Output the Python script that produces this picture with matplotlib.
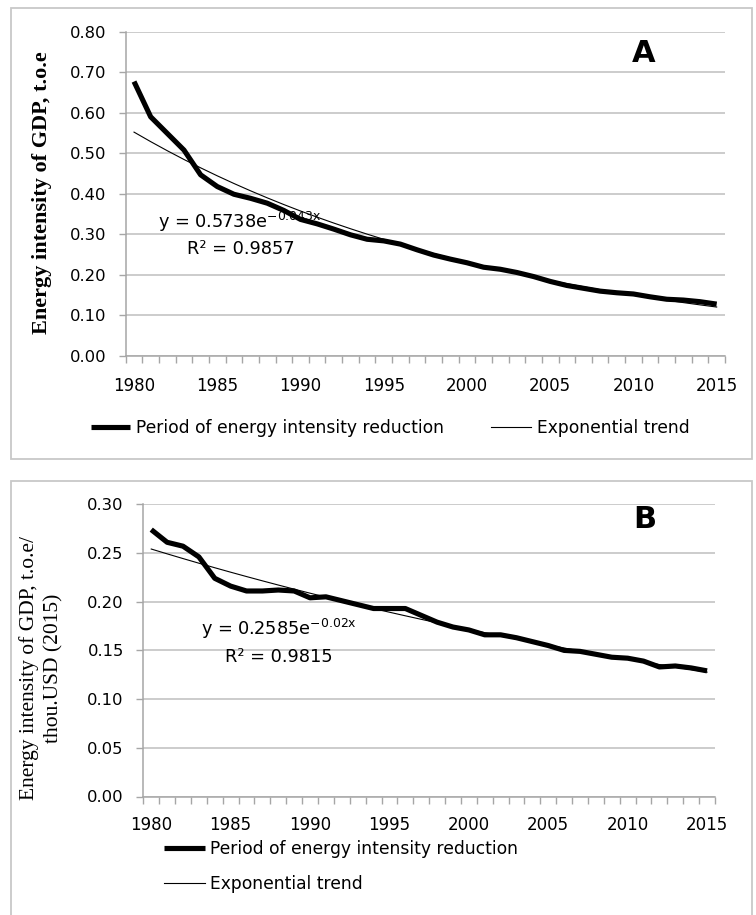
import numpy as np
import matplotlib
matplotlib.use("Agg")
import matplotlib.pyplot as plt
from matplotlib.patches import Rectangle

# data
years = list(range(1980, 2016))
intensity_a = [0.677, 0.590, 0.549, 0.508, 0.447, 0.418, 0.399, 0.389, 0.377, 0.359,
               0.337, 0.326, 0.313, 0.299, 0.288, 0.284, 0.276, 0.262, 0.249, 0.239,
               0.230, 0.219, 0.214, 0.206, 0.196, 0.184, 0.174, 0.167, 0.160, 0.156,
               0.153, 0.146, 0.140, 0.138, 0.134, 0.128]
intensity_b = [0.274, 0.261, 0.257, 0.246, 0.224, 0.216, 0.211, 0.211, 0.212, 0.211,
               0.204, 0.205, 0.201, 0.197, 0.193, 0.193, 0.193, 0.186, 0.179, 0.174,
               0.171, 0.166, 0.166, 0.163, 0.159, 0.155, 0.150, 0.149, 0.146, 0.143,
               0.142, 0.139, 0.133, 0.134, 0.132, 0.129]
yticks_a = [0.0, 0.1, 0.2, 0.3, 0.4, 0.5, 0.6, 0.7, 0.8]
yticks_b = [0.0, 0.05, 0.10, 0.15, 0.20, 0.25, 0.30]
label_years = [1980, 1985, 1990, 1995, 2000, 2005, 2010, 2015]
eq_a = ("y = 0.5738e$^{\\mathregular{-0.043x}}$", "R² = 0.9857")
eq_b = ("y = 0.2585e$^{\\mathregular{-0.02x}}$", "R² = 0.9815")
series_name = "Period of energy intensity reduction"
trend_name = "Exponential trend"

W, H = 756, 915
fig = plt.figure(figsize=(W / 100, H / 100), dpi=100)


def fx(x):
    return x / W


def fy(y):
    return 1 - y / H


def axes_px(left, top, right, bottom):
    return fig.add_axes([fx(left), fy(bottom), (right - left) / W, (bottom - top) / H])


def style(ax, values, yticks, ymax, pad_x):
    n = len(values)
    idx = np.arange(n)
    line, = ax.plot(idx, values, color="black", lw=3.7, solid_capstyle="butt",
                    solid_joinstyle="round", zorder=3)
    # exponential trend, fitted like Excel on x = 1..n
    xs = idx + 1
    b, ln_a = np.polyfit(xs, np.log(values), 1)
    trend, = ax.plot(idx, np.exp(ln_a) * np.exp(b * xs), color="black", lw=0.8, zorder=4)

    ax.set_xlim(-0.5, n - 0.5)
    ax.set_ylim(0, ymax)
    ax.set_yticks(yticks)
    ax.set_yticklabels(["%.2f" % v for v in yticks])
    pos = [years.index(y) for y in label_years]
    ax.set_xticks(pos)
    ax.set_xticklabels([str(y) for y in label_years])
    ax.set_xticks(np.arange(-0.5, n, 1.0), minor=True)
    ax.tick_params(axis="x", which="major", length=0, pad=pad_x, labelsize=12)
    ax.tick_params(axis="x", which="minor", length=5, width=1, color="#a6a6a6",
                   direction="out")
    ax.tick_params(axis="y", length=5, width=1, color="#a6a6a6", pad=9, labelsize=11.8)
    ax.grid(axis="y", color="#c4c4c4", lw=1.2, zorder=0)
    for s in ("top", "right"):
        ax.spines[s].set_visible(False)
    for s in ("left", "bottom"):
        ax.spines[s].set_color("#a6a6a6")
        ax.spines[s].set_linewidth(1.1)
    ax.set_axisbelow(True)
    return line, trend


# panel frames
fig.add_artist(Rectangle((fx(10.6), fy(459)), (752 - 10.6) / W, (459 - 8.3) / H,
                         transform=fig.transFigure, fill=False, ec="#c8c8c8", lw=1.3))
fig.add_artist(Rectangle((fx(10.6), fy(940)), (752 - 10.6) / W, (940 - 480.7) / H,
                         transform=fig.transFigure, fill=False, ec="#c8c8c8", lw=1.3))

# ---- panel A ----
ax_a = axes_px(125.7, 31.7, 725, 356)
la, ta = style(ax_a, intensity_a, yticks_a, 0.8, 15)
fig.text(fx(643.7), fy(53.3), "A", fontsize=22, fontweight="bold", ha="center", va="center")
fig.text(fx(240), fy(228), eq_a[0], fontsize=12.8, ha="center", va="baseline")
fig.text(fx(241), fy(254), eq_a[1], fontsize=12.8, ha="center", va="baseline")
fig.text(fx(42), fy(193), "Energy intensity of GDP, t.o.e", rotation=90,
         family="Liberation Serif", fontweight="bold", fontsize=16, ha="center", va="center")
ax_a.legend([la, ta], [series_name, trend_name], ncol=2, frameon=False,
            loc="center left", bbox_to_anchor=(fx(91), fy(428)),
            bbox_transform=fig.transFigure, borderpad=0, borderaxespad=0,
            handlelength=2.3, handletextpad=0.35, columnspacing=2.75, fontsize=12.3)

# ---- panel B ----
ax_b = axes_px(143.3, 504.3, 715, 796.5)
lb, tb = style(ax_b, intensity_b, yticks_b, 0.3, 14)
fig.text(fx(645), fy(519.5), "B", fontsize=22, fontweight="bold", ha="center", va="center")
fig.text(fx(279), fy(635), eq_b[0], fontsize=12.8, ha="center", va="baseline")
fig.text(fx(279), fy(661.5), eq_b[1], fontsize=12.8, ha="center", va="baseline")
fig.text(fx(41.5), fy(668), "Energy intensity of GDP, t.o.e/\nthou.USD (2015)", rotation=90,
         family="Liberation Serif", fontsize=15.5, ha="center", va="center",
         multialignment="center", linespacing=1.4)
ax_b.legend([lb, tb], [series_name, trend_name], ncol=1, frameon=False,
            loc="center left", bbox_to_anchor=(fx(164), fy(866.5)),
            bbox_transform=fig.transFigure, borderpad=0, borderaxespad=0,
            handlelength=2.4, handletextpad=0.3, labelspacing=1.0, fontsize=12.3)

fig.savefig("out.png", dpi=100)
